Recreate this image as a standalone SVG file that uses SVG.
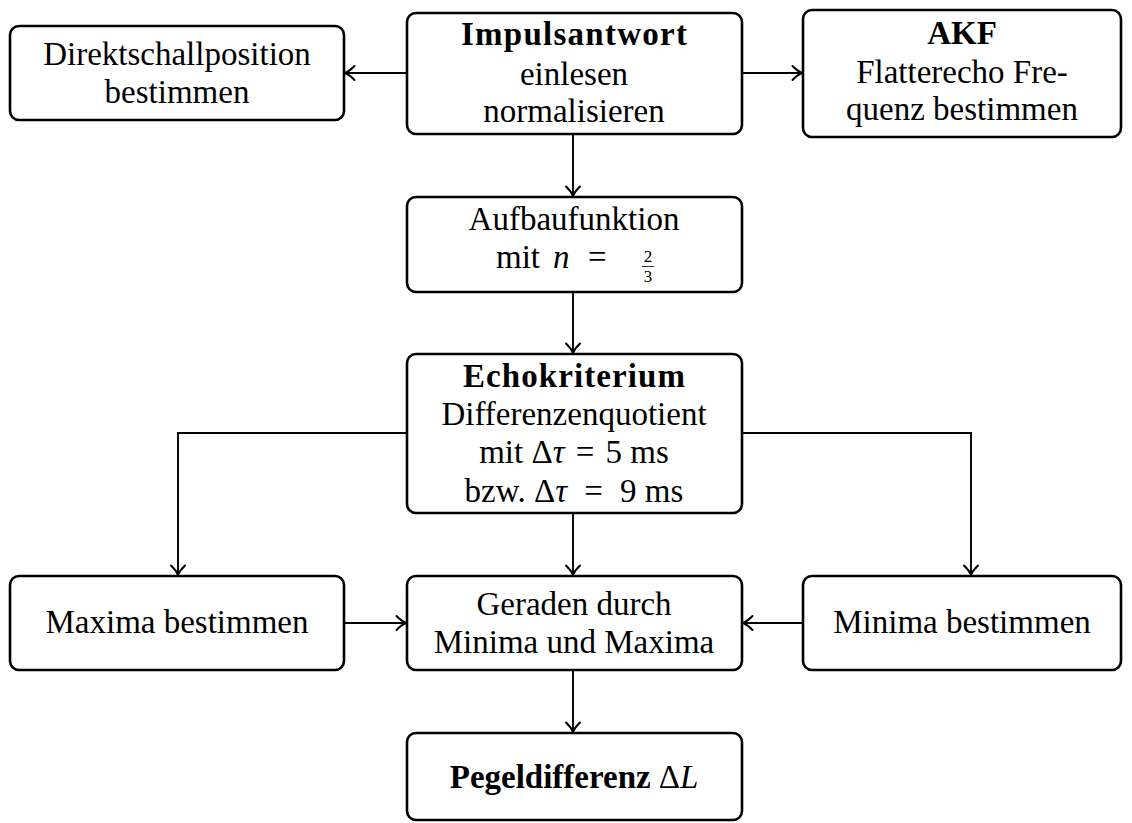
<svg xmlns="http://www.w3.org/2000/svg" width="1132" height="823" viewBox="0 0 1132 823">
<style>
.box{fill:#fff;stroke:#000;stroke-width:2.6}
.t{font-family:"Liberation Serif","Times New Roman",serif;font-size:33px;fill:#000;text-anchor:middle}
.b{font-weight:bold}
.i{font-style:italic}
.c{fill:none;stroke:#000;stroke-width:1.9}
</style>
<defs>
<marker id="ah" markerUnits="userSpaceOnUse" markerWidth="20" markerHeight="20" refX="0" refY="0" viewBox="-12 -10 14 20" orient="auto">
<path d="M -8.5 -7 Q -3.5 -1.8 0.8 0 Q -3.5 1.8 -8.5 7" fill="none" stroke="#000" stroke-width="2" stroke-linecap="round"/>
</marker>
</defs>
<rect width="1132" height="823" fill="#fff"/>
<g id="connectors">
<line class="c" x1="407" y1="73" x2="346" y2="73" marker-end="url(#ah)"/>
<line class="c" x1="742" y1="73" x2="801" y2="73" marker-end="url(#ah)"/>
<line class="c" x1="573" y1="134" x2="573" y2="195" marker-end="url(#ah)"/>
<line class="c" x1="573" y1="292" x2="573" y2="352" marker-end="url(#ah)"/>
<polyline class="c" points="407,433 178,433 178,574" marker-end="url(#ah)"/>
<polyline class="c" points="742,433 971,433 971,574" marker-end="url(#ah)"/>
<line class="c" x1="573" y1="513" x2="573" y2="574" marker-end="url(#ah)"/>
<line class="c" x1="344" y1="623" x2="405" y2="623" marker-end="url(#ah)"/>
<line class="c" x1="803" y1="623" x2="744" y2="623" marker-end="url(#ah)"/>
<line class="c" x1="573" y1="670" x2="573" y2="731" marker-end="url(#ah)"/>
</g>
<g id="direktschall">
<rect class="box" x="10" y="26" width="334" height="94" rx="9"/>
<text class="t" x="177" y="65">Direktschallposition</text>
<text class="t" x="177" y="103">bestimmen</text>
</g>
<g id="impulsantwort">
<rect class="box" x="407" y="13" width="335" height="121" rx="9"/>
<text class="t b" x="574" y="45" textLength="226" lengthAdjust="spacing">Impulsantwort</text>
<text class="t" x="574" y="85">einlesen</text>
<text class="t" x="574" y="122">normalisieren</text>
</g>
<g id="akf">
<rect class="box" x="803" y="10" width="318" height="127" rx="9"/>
<text class="t b" x="962" y="44">AKF</text>
<text class="t" x="962" y="83">Flatterecho Fre-</text>
<text class="t" x="962" y="120">quenz bestimmen</text>
</g>
<g id="aufbaufunktion">
<rect class="box" x="407" y="197" width="335" height="95" rx="9"/>
<text class="t" x="574" y="230">Aufbaufunktion</text>
<text class="t" x="496" y="268" style="text-anchor:start">mit <tspan class="i" x="553">n</tspan><tspan x="588">=</tspan></text>
<text class="t" style="font-size:17px"><tspan x="648" y="262">2</tspan><tspan x="648" y="282">3</tspan></text>
<line x1="642" y1="266.5" x2="654" y2="266.5" stroke="#000" stroke-width="0.8"/>
</g>
<g id="echokriterium">
<rect class="box" x="407" y="354" width="335" height="159" rx="9"/>
<text class="t b" x="574" y="387" textLength="222" lengthAdjust="spacing">Echokriterium</text>
<text class="t" x="574" y="425">Differenzenquotient</text>
<text class="t" x="574" y="463">mit Δ<tspan class="i">τ</tspan> <tspan dx="3">=</tspan> <tspan dx="3">5 ms</tspan></text>
<text class="t" x="574" y="502">bzw. Δ<tspan class="i">τ</tspan> <tspan dx="9">=</tspan> <tspan dx="9">9 ms</tspan></text>
</g>
<g id="maxima">
<rect class="box" x="10" y="576" width="334" height="94" rx="9"/>
<text class="t" x="177" y="633">Maxima bestimmen</text>
</g>
<g id="geraden">
<rect class="box" x="407" y="576" width="335" height="94" rx="9"/>
<text class="t" x="574" y="615">Geraden durch</text>
<text class="t" x="574" y="653">Minima und Maxima</text>
</g>
<g id="minima">
<rect class="box" x="803" y="576" width="318" height="94" rx="9"/>
<text class="t" x="962" y="633">Minima bestimmen</text>
</g>
<g id="pegeldifferenz">
<rect class="box" x="407" y="733" width="335" height="87" rx="9"/>
<text class="t" x="574" y="788"><tspan class="b">Pegeldifferenz</tspan><tspan dx="8">Δ</tspan><tspan class="i">L</tspan></text>
</g>
</svg>
